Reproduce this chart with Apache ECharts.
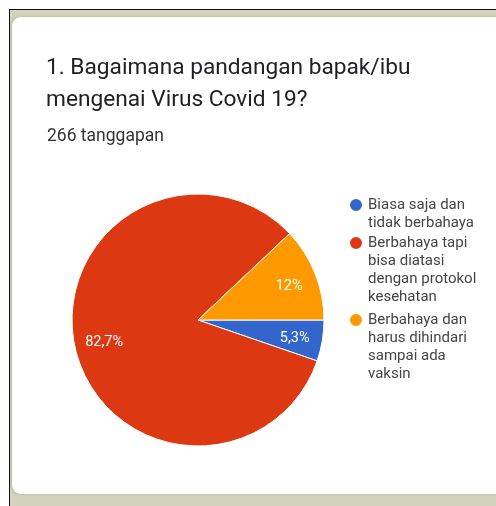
<!DOCTYPE html>
<html>
<head>
<meta charset="utf-8">
<script src="https://cdn.jsdelivr.net/npm/echarts@6/dist/echarts.min.js"></script>
<style>
  html, body { margin: 0; padding: 0; background: #ffffff; }
  #frame { position: absolute; left: 9px; top: 9px; width: 487px; height: 497px;
           background: #d3d2bd; border-left: 1.5px solid #111; border-top: 1.5px solid #111; box-sizing: border-box; }
  #card { position: absolute; left: 12px; top: 17px; width: 500px; height: 477px; background: #ffffff;
          border-radius: 9px; box-shadow: -1px 0 3px rgba(120,120,100,0.35); }
  #chart { position: absolute; left: 0; top: 0; width: 496px; height: 506px; }
</style>
</head>
<body>
<div id="frame"></div>
<div id="card"></div>
<div id="chart"></div>
<script>
const titleLines = ['1. Bagaimana pandangan bapak/ibu', 'mengenai Virus Covid 19?'];
const responsesText = '266 tanggapan';
const categories = [
  'Biasa saja dan tidak berbahaya',
  'Berbahaya tapi bisa diatasi dengan protokol kesehatan',
  'Berbahaya dan harus dihindari sampai ada vaksin'
];
const counts = [14, 220, 32];
const colors = ['#3366cc', '#dc3912', '#ff9900'];

const chart = echarts.init(document.getElementById('chart'), null, { renderer: 'canvas' });
const data = categories.map((c, i) => ({ name: c, value: counts[i], itemStyle: { color: colors[i] } }));
const fmtPct = p => String(Number(p.toFixed(1))).replace('.', ',') + '%';

// icon aligned with first line: pad the text block above by (lines-1) empty lines
const legendLines = [2, 4, 4];
const legendTops = [178, 180, 257];
const legends = categories.map((c, i) => ({
  data: [c],
  orient: 'vertical',
  left: 348,
  top: legendTops[i],
  icon: 'circle',
  itemWidth: 14,
  itemHeight: 14,
  itemGap: 0,
  padding: 0,
  selectedMode: false,
  formatter: name => '\n'.repeat(legendLines[i] - 1) + name,
  textStyle: {
    fontFamily: 'Roboto', fontSize: 15, color: '#454545',
    width: 114, overflow: 'break', lineHeight: 18
  }
}));

chart.setOption({
  animation: false,
  title: [
    { text: titleLines.join('\n'), left: 46, top: 52, padding: 0,
      textStyle: { fontFamily: 'Roboto', fontSize: 22.7, fontWeight: 'normal', color: '#202124', lineHeight: 32 } },
    { text: responsesText, left: 47, top: 127, padding: 0,
      textStyle: { fontFamily: 'Roboto', fontSize: 17.5, fontWeight: 'normal', color: '#333333', lineHeight: 20 } }
  ],
  legend: legends,
  series: [
    {
      type: 'pie',
      center: [198, 320],
      radius: [0, 126],
      startAngle: 0,
      clockwise: true,
      silent: true,
      label: { show: false },
      labelLine: { show: false },
      itemStyle: { borderColor: '#ffffff', borderWidth: 1 },
      emphasis: { disabled: true },
      data: data
    },
    {
      type: 'pie',
      center: [199, 322],
      radius: [62, 126],
      startAngle: 0,
      clockwise: true,
      silent: true,
      legendHoverLink: false,
      percentPrecision: 1,
      itemStyle: { color: 'rgba(0,0,0,0)', borderWidth: 0 },
      emphasis: { disabled: true },
      label: {
        show: true, position: 'inside', color: '#ffffff',
        fontFamily: 'Roboto', fontSize: 14.5,
        formatter: p => fmtPct(p.percent)
      },
      labelLine: { show: false },
      data: categories.map((c, i) => ({ name: c + ' ', value: counts[i] }))
    }
  ]
});
</script>
</body>
</html>
